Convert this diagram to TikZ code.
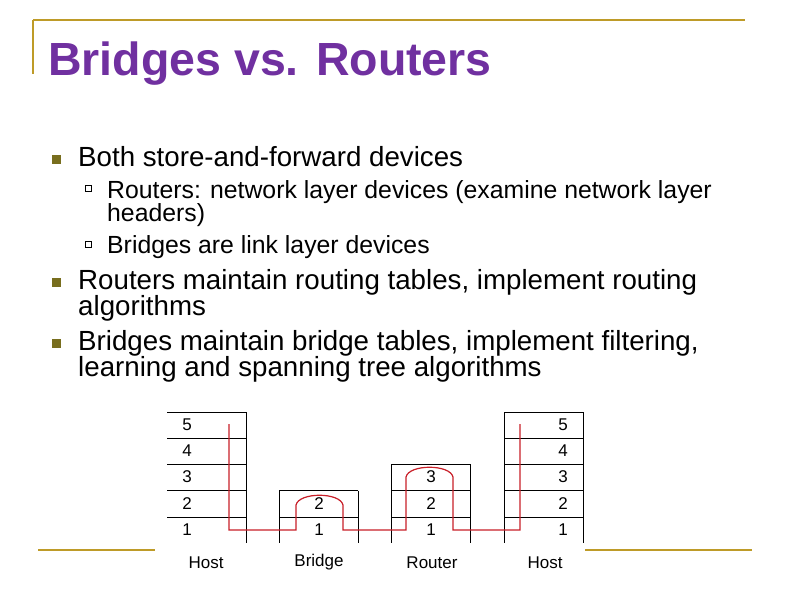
\documentclass[tikz,border=0pt]{standalone}
\usepackage{fontspec}
\setmainfont{Liberation Sans}
\begin{document}
\begin{tikzpicture}[x=1pt,y=-1pt,
  gold/.style={draw={rgb,255:red,190;green,155;blue,40},line width=2.5pt},
  bul/.style={fill={rgb,255:red,120;green,110;blue,30}},
  hol/.style={draw=black,line width=0.5pt},
  txt/.style={anchor=base west,inner sep=0pt,font=\fontsize{27.7}{28}\selectfont},
  stxt/.style={anchor=base west,inner sep=0pt,font=\fontsize{24.8}{25}\selectfont},
  grid/.style={draw=black,line width=0.6pt},
  num/.style={font=\fontsize{17}{17}\selectfont,inner sep=0pt},
  red/.style={draw={rgb,255:red,200;green,30;blue,40},line width=1.2pt}]
\useasboundingbox (0,0) rectangle (792,612);
\draw[gold] (33,20) -- (745,20);
\draw[gold] (33,20) -- (33,74);
\draw[gold] (38,550) -- (155,550);
\draw[gold] (585,550) -- (752,550);
\node[anchor=base west,inner sep=0pt,text={rgb,255:red,112;green,48;blue,160},font=\bfseries\fontsize{46.5}{46}\selectfont] (title) at (48,76) {Bridges vs. Routers};
% bullets
\fill[bul] (52,155) rectangle (61,164);
\fill[bul] (52,278) rectangle (61,287);
\fill[bul] (52,339) rectangle (61,348);
\draw[hol] (85,185) rectangle (91,191);
\draw[hol] (85,241) rectangle (91,247);
\node[txt] (b1) at (78,167) {Both store-and-forward devices};
\node[stxt] (s1) at (107,199) {Routers: network layer devices (examine network layer};
\node[stxt] (s1b) at (107,222) {headers)};
\node[stxt] (s2) at (107,254) {Bridges are link layer devices};
\node[txt] (b2) at (78,289) {Routers maintain routing tables, implement routing};
\node[txt] (b2b) at (78,315) {algorithms};
\node[txt] (b3) at (78,350) {Bridges maintain bridge tables, implement filtering,};
\node[txt] (b3b) at (78,376) {learning and spanning tree algorithms};
% left host
\foreach \y in {412,438.2,464.4,490.6,516.8} \draw[grid] (167,\y) -- (246,\y);
\draw[grid] (246,412) -- (246,543);
% right host
\foreach \y in {412,438.2,464.4,490.6,516.8} \draw[grid] (504,\y) -- (583,\y);
\draw[grid] (504,412) -- (504,543);
\draw[grid] (583,412) -- (583,543);
% bridge
\foreach \y in {490.6,516.8} \draw[grid] (279,\y) -- (358,\y);
\draw[grid] (279,490.6) -- (279,543);
\draw[grid] (358,490.6) -- (358,543);
% router
\foreach \y in {464.4,490.6,516.8} \draw[grid] (391,\y) -- (470,\y);
\draw[grid] (391,464.4) -- (391,543);
\draw[grid] (470,464.4) -- (470,543);
% numbers
\foreach \n/\y in {5/425,4/451,3/477,2/504,1/530} {
  \node[num] at (187,\y) {\n};
  \node[num] at (563,\y) {\n};}
\node[num] at (319,504) {2};
\node[num] at (319,530) {1};
\node[num] at (431,477) {3};
\node[num] at (431,504) {2};
\node[num] at (431,530) {1};
\node[num] (l1) at (206,563) {Host};
\node[num] (l2) at (319,562) {Bridge};
\node[num] (l3) at (432,563) {Router};
\node[num] (l4) at (545,563) {Host};
% red path
\draw[red] (229,424) -- (229,530) -- (296,530) -- (296,505)
  .. controls (299,492) and (340,492) .. (343,505) -- (343,530) -- (406,530) -- (406,477)
  .. controls (409,464) and (450,464) .. (453,477) -- (453,530) -- (520,530) -- (520,424);
\end{tikzpicture}
\end{document}
